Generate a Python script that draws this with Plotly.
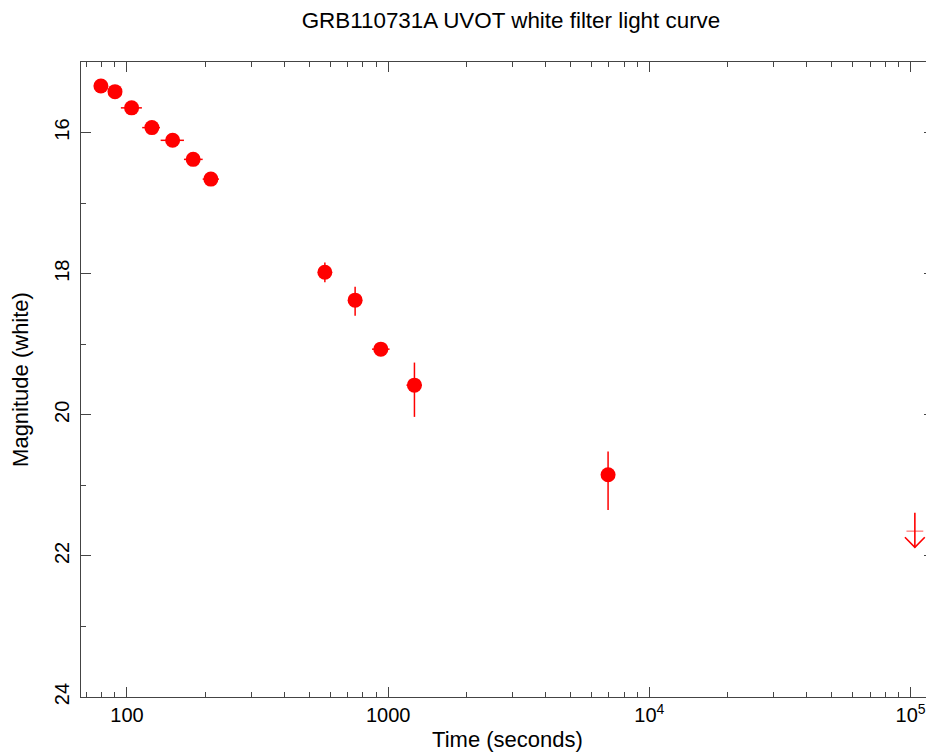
import numpy as np
import plotly.graph_objects as go

# UVOT white detections
t_mid = [79.5, 90.0, 104.2, 124.6, 149.6, 179.3, 209.6, 572.5, 747.5, 937.6, 1261, 6952]
t_minus = [4, 4, 9.4, 10.2, 15, 14, 14.6, 10, 10, 70, 85, 100]
t_plus = [4, 4, 9.9, 9.2, 15.7, 15.7, 15.4, 10, 10, 75, 85, 100]
mag = [15.34, 15.42, 15.65, 15.93, 16.11, 16.38, 16.66, 17.98, 18.375, 19.07, 19.58, 20.85]
mag_bright = [0.05, 0.05, 0.05, 0.05, 0.05, 0.05, 0.05, 0.14, 0.19, 0.06, 0.32, 0.33]
mag_faint = [0.05, 0.05, 0.05, 0.05, 0.05, 0.05, 0.05, 0.14, 0.22, 0.06, 0.45, 0.50]

# upper limit
ul_t = [103900]
ul_mag = [21.65]

x_ticks = [100, 1000, 10000, 100000]
x_ticktext = ["100", "1000", "10<sup>4</sup>", "10<sup>5</sup>"]
x_minor = [70, 80, 90, 200, 300, 400, 500, 600, 700, 800, 900,
           2000, 3000, 4000, 5000, 6000, 7000, 8000, 9000,
           20000, 30000, 40000, 50000, 60000, 70000, 80000, 90000]
y_ticks = [16, 18, 20, 22, 24]
y_minor = [15, 17, 19, 21, 23]

red = "#ff0000"
axcol = "#444444"
font = "Liberation Sans, Arial, sans-serif"

W, H = 926, 744  # page body has an 8px margin

fig = go.Figure()
fig.add_trace(go.Scatter(
    x=t_mid, y=mag, mode="markers",
    marker=dict(color=red, size=15),
    error_x=dict(type="data", symmetric=False, array=t_plus, arrayminus=t_minus,
                 color=red, thickness=1.5, width=0),
    error_y=dict(type="data", symmetric=False, array=mag_faint, arrayminus=mag_bright,
                 color=red, thickness=1.5, width=0),
    showlegend=False,
))

# upper limit: pale bar at the limit plus a downward arrow glyph
fig.add_trace(go.Scatter(
    x=ul_t, y=ul_mag, mode="markers",
    marker=dict(symbol="line-ew", size=12, line=dict(color="rgba(255,0,0,0.45)", width=1.5)),
    showlegend=False,
))

arrow_up, arrow_down, head_h, head_w = 0.26, 0.23, 0.145, 0.038  # mag, mag, mag, dex
ax_, ay_ = [], []
for tt, mm in zip(ul_t, ul_mag):
    tip = mm + arrow_down
    ax_ += [tt, tt, None, tt * 10 ** -head_w, tt, tt * 10 ** head_w, None]
    ay_ += [mm - arrow_up, tip, None, tip - head_h, tip, tip - head_h, None]
fig.add_trace(go.Scatter(
    x=ax_, y=ay_, mode="lines", line=dict(color=red, width=1.6),
    showlegend=False, hoverinfo="skip",
))

fig.update_xaxes(
    type="log", range=[np.log10(66.7), np.log10(123000)],
    tickvals=x_ticks, ticktext=x_ticktext,
    ticks="inside", ticklen=10, tickwidth=1, tickcolor=axcol,
    minor=dict(tickvals=x_minor, ticks="inside", ticklen=5, tickcolor=axcol, tickwidth=1),
    showline=True, linecolor=axcol, linewidth=1, mirror="ticks",
    showgrid=False, zeroline=False,
    tickfont=dict(family=font, size=20, color="black"),
    title=dict(text="Time (seconds)", font=dict(family=font, size=22, color="black"), standoff=6),
    automargin=False,
)
fig.update_yaxes(
    range=[24, 15],
    tickvals=y_ticks, tickangle=-90,
    ticks="inside", ticklen=10, tickwidth=1, tickcolor=axcol,
    minor=dict(tickvals=y_minor, ticks="inside", ticklen=5, tickcolor=axcol, tickwidth=1),
    showline=True, linecolor=axcol, linewidth=1, mirror="ticks",
    showgrid=False, zeroline=False,
    tickfont=dict(family=font, size=20, color="black"),
    ticklabelstandoff=3,
    title=dict(text="Magnitude (white)", font=dict(family=font, size=22, color="black"), standoff=17),
    automargin=False,
)

fig.update_layout(
    width=W, height=H,
    margin=dict(l=73, r=0, t=54, b=55),
    paper_bgcolor="white", plot_bgcolor="white",
    title=dict(text="GRB110731A UVOT white filter light curve",
               font=dict(family=font, size=22.4, color="black"),
               x=503 / W, xanchor="center", y=1 - 12 / H, yanchor="middle", yref="container"),
)

fig.write_html("out.html")
